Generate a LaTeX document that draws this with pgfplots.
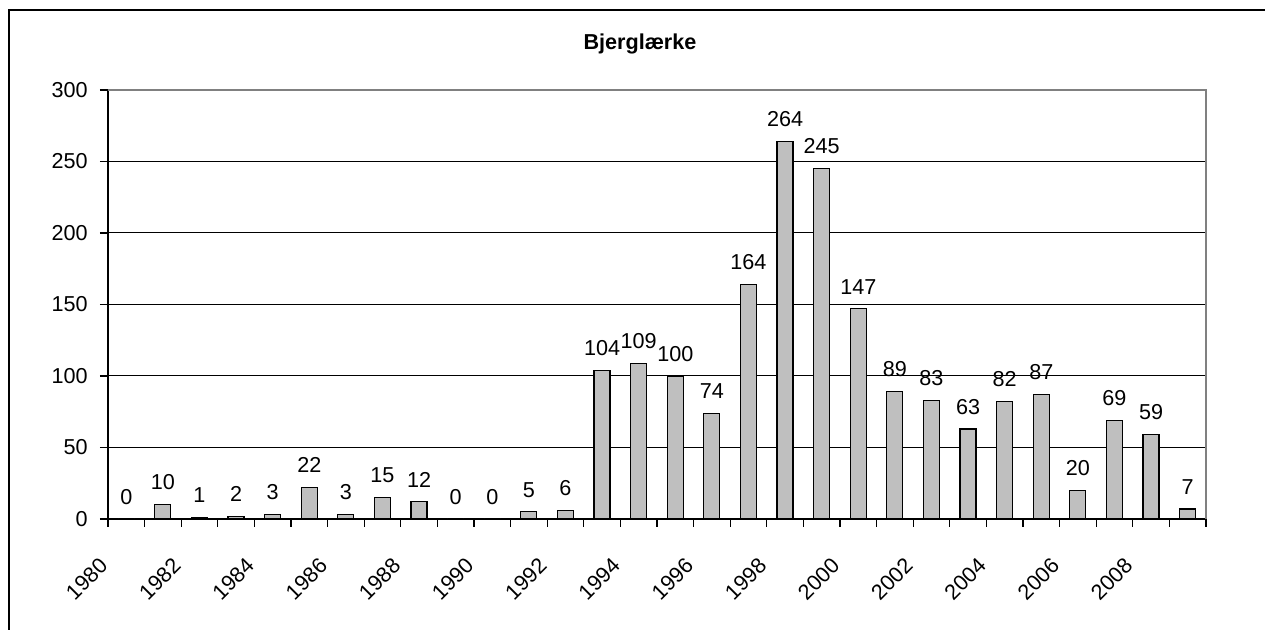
\documentclass[border=0pt]{standalone}
\usepackage{pgfplots}
\pgfplotsset{compat=1.18}
\usepackage{fontspec}
\setmainfont{Liberation Sans}
\newcommand{\cf}{\fontsize{10.8}{13}\selectfont}
\begin{document}
\begin{tikzpicture}
\useasboundingbox (0,0) rectangle (632.5pt,315pt);
\draw[line width=0.75pt] (4.5pt,-2pt) -- (4.5pt,310pt) -- (636pt,310pt);
\node[font=\cf\bfseries] at (320pt,293pt) {Bjerglærke};
\begin{axis}[
  at={(54pt,55.5pt)}, anchor=south west,
  scale only axis, width=549pt, height=214.5pt,
  xmin=-0.5, xmax=29.5, ymin=0, ymax=300,
  axis x line*=bottom, axis y line*=left,
  axis line style={line width=0.6pt, -},
  tick align=outside,
  major tick length=4pt, minor tick length=4pt,
  tick style={line width=0.6pt, black},
  ytick={0,50,...,300},
  xtick={0,2,...,28},
  xticklabels={1980,1982,1984,1986,1988,1990,1992,1994,1996,1998,2000,2002,2004,2006,2008},
  minor xtick={-0.5,0.5,...,29.5},
  major x tick style={draw=none},
  ymajorgrids,
  major grid style={black, line width=0.5pt},
  tick label style={font=\cf},
  /pgf/number format/assume math mode=true,
  yticklabel style={anchor=east, inner sep=0pt, xshift=-6pt},
  xticklabel style={inner sep=0pt, rotate=45, anchor=north east, xshift=-20.1pt, yshift=-0.3pt},
  clip=false,
]
\addplot[ybar, bar width=8pt, fill=black!25, draw=black, line width=0.6pt,
  nodes near coords,
  nodes near coords style={font=\cf, inner sep=0pt, anchor=south, yshift=7pt}]
  coordinates {
  (0,0) (1,10) (2,1) (3,2) (4,3) (5,22) (6,3) (7,15) (8,12) (9,0)
  (10,0) (11,5) (12,6) (13,104) (14,109) (15,100) (16,74) (17,164) (18,264) (19,245)
  (20,147) (21,89) (22,83) (23,63) (24,82) (25,87) (26,20) (27,69) (28,59) (29,7)
  };
\draw[black!50, line width=0.6pt] (rel axis cs:0,1) -- (rel axis cs:1,1) -- (rel axis cs:1,0);
\end{axis}
\end{tikzpicture}
\end{document}
